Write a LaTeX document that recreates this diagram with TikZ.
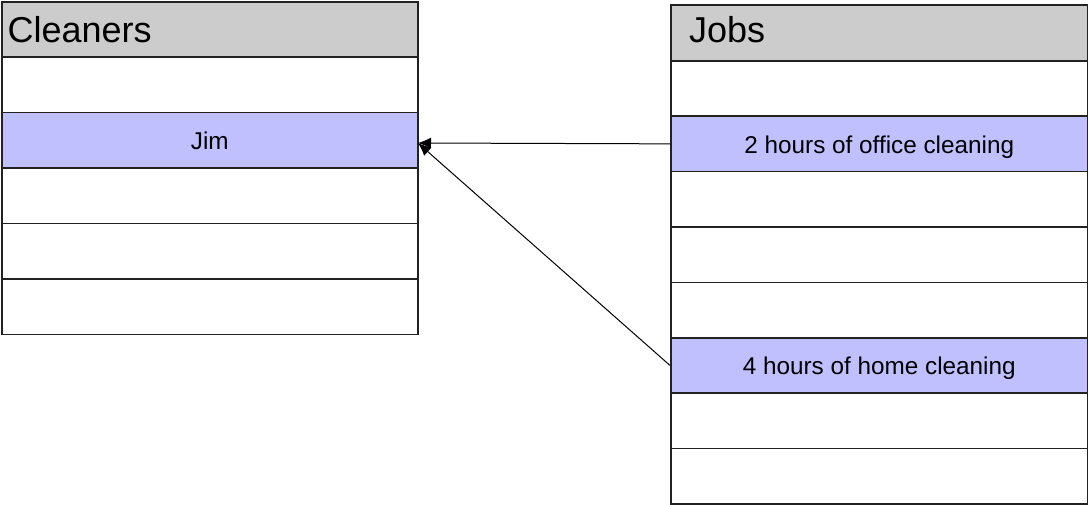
\documentclass[tikz,border=0pt]{standalone}
\usepackage{fontspec}
\setmainfont{Liberation Sans}
\usetikzlibrary{arrows.meta}
\definecolor{hdr}{HTML}{CCCCCC}
\definecolor{hil}{HTML}{C0C0FF}
\definecolor{edge}{HTML}{222222}
\begin{document}
\begin{tikzpicture}[x=1pt,y=-1pt,
  cell/.style={draw=edge, line width=1.5pt, fill=white, inner sep=0pt, anchor=north west,
    minimum height=#1, font=\fontsize{24.3}{28}\selectfont, text height=19pt, text depth=0pt},
  lcell/.style={cell=55.5pt, minimum width=416pt},
  rcell/.style={cell=55.4pt, minimum width=417pt},
  headfill/.style={fill=hdr},
  hilite/.style={fill=hil},
  htext/.style={anchor=base west, inner sep=0pt, font=\fontsize{36}{40}\selectfont},
  link/.style={draw=black, line width=1pt, -{Latex[length=13pt,width=11pt]}}
]
\useasboundingbox (0,0) rectangle (1088,504);
% Cleaners table
\node[lcell, headfill, minimum height=55pt] (lh) at (1,1) {};
\node[lcell] (l1) at (1,56) {};
\node[lcell, hilite] (l2) at (1,111.5) {Jim};
\node[lcell] (l3) at (1,167) {};
\node[lcell] (l4) at (1,222.5) {};
\node[lcell] (l5) at (1,278) {};
\node[htext] (lht) at (7.5,42.7) {Cleaners};
% Jobs table
\node[rcell, headfill, minimum height=56pt] (rh) at (670,4) {};
\node[rcell] (r1) at (670,60) {};
\node[rcell, hilite] (r2) at (670,115.4) {2 hours of office cleaning};
\node[rcell] (r3) at (670,170.8) {};
\node[rcell] (r4) at (670,226.2) {};
\node[rcell] (r5) at (670,281.6) {};
\node[rcell, hilite] (r6) at (670,337) {4 hours of home cleaning};
\node[rcell] (r7) at (670,392.4) {};
\node[rcell] (r8) at (670,447.8) {};
\node[htext] (rht) at (689,42.7) {Jobs};
% connectors
\coordinate (tgt) at (418,143);
\draw[link] (r2.west) -- (tgt);
\draw[link] (r6.west) -- (tgt);
\end{tikzpicture}
\end{document}
